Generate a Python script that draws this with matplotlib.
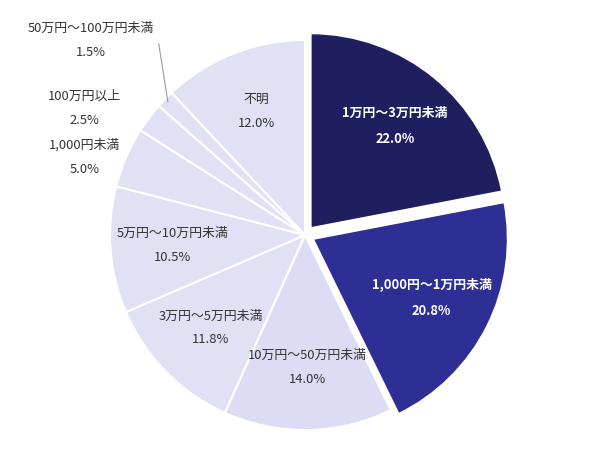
import matplotlib
matplotlib.use("Agg")
import matplotlib.pyplot as plt
import numpy as np

categories = ["1万円～3万円未満", "1,000円～1万円未満", "10万円～50万円未満", "3万円～5万円未満",
              "5万円～10万円未満", "1,000円未満", "100万円以上", "50万円～100万円未満", "不明"]
values = [22.0, 20.8, 14.0, 11.8, 10.5, 5.0, 2.5, 1.5, 12.0]
colors = ["#1f1f5f", "#2e2f95", "#dcdcf4", "#e1e1f6", "#e1e1f6", "#e1e1f6", "#e1e1f6", "#e1e1f6", "#e1e1f6"]
explode = [0.045, 0.045, 0, 0, 0, 0, 0, 0, 0]

plt.rcParams["font.family"] = "Noto Sans CJK JP"
W, H = 608, 472
fig = plt.figure(figsize=(W / 100, H / 100), dpi=100)
cx, cy, R = 305, 235, 195
lim = 1.15
ax = fig.add_axes([(cx - R * lim) / W, (H - cy - R * lim) / H, 2 * R * lim / W, 2 * R * lim / H])
wedges, _ = ax.pie(values, colors=colors, explode=explode, startangle=90, counterclock=False,
                   wedgeprops=dict(edgecolor="white", linewidth=1.5))
ax.set_xlim(-lim, lim); ax.set_ylim(-lim, lim); ax.set_aspect("equal"); ax.axis("off")

fs = 9.3
small = {5: (-1.13, 0.4), 6: (-1.13, 0.65)}
for i, (w, c, v) in enumerate(zip(wedges, categories, values)):
    ang = np.deg2rad((w.theta1 + w.theta2) / 2)
    txt = f"{c}\n\n{v:.1f}%"
    dark = i < 2
    if i in small:
        x, y = small[i]
        ax.text(x, y, txt, ha="center", va="center", fontsize=fs, color="#333333", linespacing=0.9)
    elif i == 7:
        x0, y0 = np.cos(ang), np.sin(ang)
        ax.plot([x0 * 0.98, -0.75], [y0 * 0.98, 0.98], color="#999999", lw=0.8)
        ax.text(-1.1, 1.0, txt, ha="center", va="center", fontsize=fs, color="#333333", linespacing=0.9)
    else:
        r = 0.68 + (explode[i])
        ax.text(r * np.cos(ang), r * np.sin(ang), txt, ha="center", va="center", fontsize=fs,
                color="white" if dark else "#333333", fontweight="bold" if dark else "normal",
                linespacing=0.9)
fig.savefig("out.png", dpi=100, facecolor="white")
